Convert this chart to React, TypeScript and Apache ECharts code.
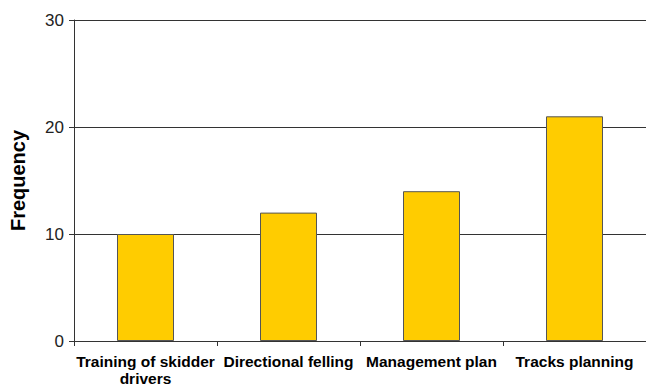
import React, { useEffect, useRef } from "react";
import * as echarts from "echarts";

// Measures reported and how often each was named
const categories = [
  "Training of skidder\ndrivers",
  "Directional felling",
  "Management plan",
  "Tracks planning",
];
const frequencies = [10, 12, 14, 21];
const yTicks = { min: 0, max: 30, interval: 10 };

export default function App() {
  const ref = useRef<HTMLDivElement>(null);

  useEffect(() => {
    if (!ref.current) return;
    const chart = echarts.init(ref.current, undefined, { renderer: "svg" });
    chart.setOption({
      animation: false,
      backgroundColor: "#ffffff",
      textStyle: { fontFamily: "Liberation Sans, Arial, sans-serif" },
      // plot area runs slightly past the right edge of the canvas
      grid: { left: 71, top: 20, bottom: 46, right: -3 },
      xAxis: {
        type: "category",
        data: categories,
        axisLine: { lineStyle: { color: "#333", width: 1 } },
        axisTick: { show: true, length: 5, lineStyle: { color: "#333" } },
        axisLabel: {
          color: "#000",
          fontWeight: "bold",
          fontSize: 15.5,
          lineHeight: 17,
          margin: 12,
          interval: 0,
        },
      },
      yAxis: {
        type: "value",
        min: yTicks.min,
        max: yTicks.max,
        interval: yTicks.interval,
        name: "Frequency",
        nameLocation: "middle",
        nameGap: 46,
        nameTextStyle: { color: "#000", fontWeight: "bold", fontSize: 20 },
        axisLine: { show: true, lineStyle: { color: "#333", width: 1 } },
        axisTick: { show: true, length: 5, lineStyle: { color: "#333" } },
        axisLabel: { color: "#222", fontSize: 17, margin: 10 },
        splitLine: { show: true, lineStyle: { color: "#333", width: 1 } },
      },
      series: [
        {
          type: "bar",
          data: frequencies,
          barWidth: 57,
          itemStyle: { color: "#FFCC00", borderColor: "#555", borderWidth: 1 },
        },
      ],
    });
    return () => chart.dispose();
  }, []);

  return (
    <div
      ref={ref}
      style={{ position: "fixed", left: 0, top: 0, width: 646, height: 387, background: "#fff" }}
    />
  );
}
